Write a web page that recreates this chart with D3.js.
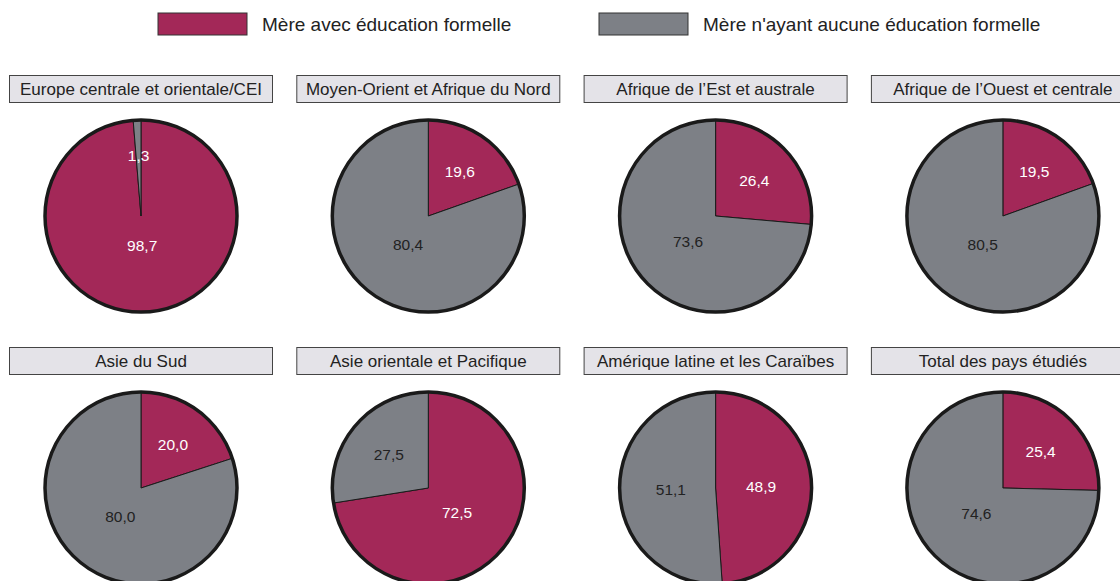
<!DOCTYPE html>
<html>
<head>
<meta charset="utf-8">
<script src="https://cdn.jsdelivr.net/npm/d3@7"></script>
<style>
  body { margin: 0; background: #fff; }
  svg { display: block; font-family: "Liberation Sans", Arial, sans-serif; }
</style>
</head>
<body>
<svg id="chart" width="1120" height="581"></svg>
<script>
// data
const regions = [
  'Europe centrale et orientale/CEI',
  'Moyen-Orient et Afrique du Nord',
  'Afrique de l\u2019Est et australe',
  'Afrique de l\u2019Ouest et centrale',
  'Asie du Sud',
  'Asie orientale et Pacifique',
  'Amérique latine et les Caraïbes',
  'Total des pays étudiés'
]
const withEducation = [98.7, 19.6, 26.4, 19.5, 20.0, 72.5, 48.9, 25.4]
const noEducation = [1.3, 80.4, 73.6, 80.5, 80.0, 27.5, 51.1, 74.6]
const seriesNames = ['Mère avec éducation formelle', 'Mère n\'ayant aucune éducation formelle']

const colors = ['#a32858', '#7d8086']
const labelColors = ['#ffffff', '#222222']

const svg = d3.select('#chart')

// legend
const legendX = [158, 599]
seriesNames.forEach((name, i) => {
  const g = svg.append('g').attr('transform', `translate(${legendX[i]},13)`)
  g.append('rect')
    .attr('width', 89).attr('height', 22)
    .attr('fill', colors[i])
    .attr('stroke', '#333').attr('stroke-width', 1)
  g.append('text')
    .attr('x', 104).attr('y', 17.5)
    .attr('font-size', 19).attr('fill', '#222')
    .text(name)
})

// grid of pies
const colX = d3.scaleLinear().domain([0, 1]).range([9, 296.3])
const rowY = [75, 347]
const boxW = 263
const boxH = 27
const radius = 96

const pie = d3.pie().sort(null).startAngle(0).endAngle(2 * Math.PI)
const arc = d3.arc().innerRadius(0).outerRadius(radius)
// label distance shrinks for larger slices
const labelR = d3.scaleLinear().domain([0, 50, 100]).range([0.63, 0.47, 0.3]).clamp(true)
const fmt = v => d3.format('.1f')(v).replace('.', ',')

regions.forEach((name, i) => {
  const col = i % 4
  const row = Math.floor(i / 4)
  const x0 = colX(col)
  const y0 = rowY[row]
  const g = svg.append('g').attr('transform', `translate(${x0},${y0})`)

  g.append('rect')
    .attr('x', 0.5).attr('y', 0.5)
    .attr('width', boxW).attr('height', boxH)
    .attr('fill', '#e4e3e8')
    .attr('stroke', '#444').attr('stroke-width', 1)
  g.append('text')
    .attr('x', boxW / 2 + 0.5).attr('y', boxH / 2 + 1)
    .attr('text-anchor', 'middle')
    .attr('dominant-baseline', 'central')
    .attr('font-size', 17).attr('fill', '#222')
    .text(name)

  const values = [withEducation[i], noEducation[i]]
  const arcs = pie(values)
  const p = g.append('g').attr('transform', `translate(${boxW / 2 + 0.5},${141})`)

  p.selectAll('path.slice')
    .data(arcs)
    .join('path')
    .attr('class', 'slice')
    .attr('d', arc)
    .attr('fill', (d, j) => colors[j])
    .attr('stroke', '#1a1a1a')
    .attr('stroke-width', 1)

  p.append('circle')
    .attr('r', radius)
    .attr('fill', 'none')
    .attr('stroke', '#1a1a1a')
    .attr('stroke-width', 3.5)

  p.selectAll('text.val')
    .data(arcs)
    .join('text')
    .attr('class', 'val')
    .attr('transform', d => {
      const r = radius * labelR(d.data)
      const a = (d.startAngle + d.endAngle) / 2
      return `translate(${Math.sin(a) * r},${-Math.cos(a) * r})`
    })
    .attr('text-anchor', 'middle')
    .attr('dominant-baseline', 'central')
    .attr('font-size', 15.5)
    // a tiny slice's label sits on the neighbouring pink, so it goes white
    .attr('fill', (d, j) => d.data < 5 ? '#ffffff' : labelColors[j])
    .text(d => fmt(d.data))
})
</script>
</body>
</html>
